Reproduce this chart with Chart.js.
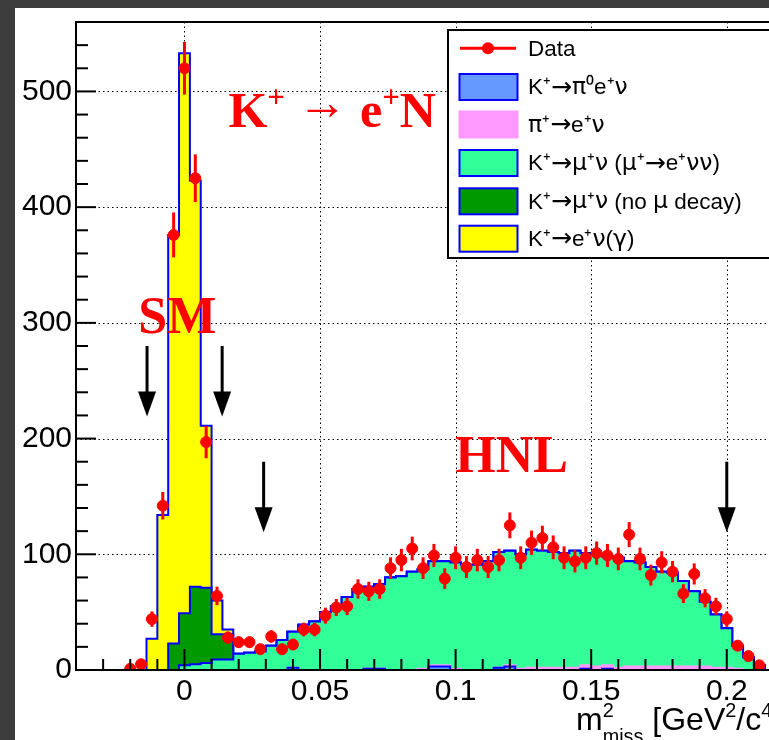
<!DOCTYPE html>
<html>
<head>
<meta charset="utf-8">
<script src="https://cdn.jsdelivr.net/npm/chart.js@4.4.1/dist/chart.umd.min.js"></script>
<style>
  html, body { margin: 0; padding: 0; width: 769px; height: 740px; overflow: hidden; background: #3c3c3c; }
  #wrap { position: absolute; left: 15px; top: 8px; width: 790px; height: 732px; background: #ffffff; }
</style>
</head>
<body>
<div id="wrap"><canvas id="mmissChart" width="790" height="732"></canvas></div>
<script>
// bin centres of the m2miss histogram (GeV^2/c^4), bin width 0.004
const binWidth = 0.004;
const binCenters = [
  -0.02, -0.016, -0.012, -0.008, -0.004, 0, 0.004, 0.008, 0.012, 0.016,
  0.02, 0.024, 0.028, 0.032, 0.036, 0.04, 0.044, 0.048, 0.052, 0.056,
  0.06, 0.064, 0.068, 0.072, 0.076, 0.08, 0.084, 0.088, 0.092, 0.096,
  0.1, 0.104, 0.108, 0.112, 0.116, 0.12, 0.124, 0.128, 0.132, 0.136,
  0.14, 0.144, 0.148, 0.152, 0.156, 0.16, 0.164, 0.168, 0.172, 0.176,
  0.18, 0.184, 0.188, 0.192, 0.196, 0.2, 0.204, 0.208, 0.212
];

// observed events
const dataCounts = [
  1, 5, 44, 142, 376, 520, 425, 197, 64, 28,
  24, 24, 18, 29, 18, 22, 35, 35, 47, 54,
  55, 70, 68, 70, 88, 95, 105, 88, 99, 79,
  97, 89, 95, 89, 95, 125, 97, 110, 114, 106,
  97, 94, 97, 101, 99, 96, 117, 96, 82, 93,
  85, 66, 83, 62, 55, 44, 21, 12, 4
];

// MC components (own contribution per bin, stacked bottom -> top)
const piZeroENu = [
  0, 0, 0, 0, 0, 0, 0, 0, 0, 0,
  0, 0, 0, 0, 0, 2, 0, 0, 0, 0,
  0, 0, 1, 1, 0, 0, 0, 0, 3, 3,
  0, 0, 0, 0, 2, 3, 0, 0, 0, 0,
  0, 0, 1, 0, 1, 0, 0, 0, 0, 0,
  0, 0, 0, 0, 0, 0, 0, 0, 0
];
const piENu = [
  0, 0, 0, 0, 0, 0, 0, 0, 0, 0,
  0, 0, 0, 0, 0, 0, 0, 0, 0, 0,
  0, 0, 0, 0, 0, 0, 0, 1, 1, 1,
  1, 0, 0, 0, 0, 1, 1, 2, 2, 2,
  2, 2, 3, 3, 3, 2, 3, 3, 3, 3,
  3, 3, 3, 3, 2, 2, 1, 0, 0
];
const muDecay = [
  0, 0, 0, 0, 0, 4, 5, 6, 9, 9,
  14, 15, 16, 21, 26, 31, 39, 42, 50, 55,
  63, 70, 71, 73, 80, 81, 85, 86, 90, 90,
  92, 91, 91, 94, 100, 99, 99, 102, 101, 100,
  99, 101, 97, 97, 94, 95, 91, 90, 86, 82,
  81, 74, 65, 56, 46, 34, 20, 11, 4
];
const noMuDecay = [
  0, 0, 0, 0, 23, 45, 67, 65, 22, 22,
  0, 0, 0, 0, 0, 0, 0, 0, 0, 0,
  0, 0, 0, 0, 0, 0, 0, 0, 0, 0,
  0, 0, 0, 0, 0, 0, 0, 0, 0, 0,
  0, 0, 0, 0, 0, 0, 0, 0, 0, 0,
  0, 0, 0, 0, 0, 0, 0, 0, 0
];
const eNuGamma = [
  0, 0, 27, 134, 353, 484, 351, 140, 29, 4,
  0, 0, 0, 0, 0, 0, 0, 0, 0, 0,
  0, 0, 0, 0, 0, 0, 0, 0, 0, 0,
  0, 0, 0, 0, 0, 0, 0, 0, 0, 0,
  0, 0, 0, 0, 0, 0, 0, 0, 0, 0,
  0, 0, 0, 0, 0, 0, 0, 0, 0
];

const xTickValues = [0, 0.05, 0.1, 0.15, 0.2];
const yTickValues = [0, 100, 200, 300, 400, 500];

// selection cut arrows: x position, top and tip (in events)
const cutArrows = [
  { x: -0.0138, top: 280, tip: 219 },
  { x: 0.0139, top: 280, tip: 219 },
  { x: 0.0292, top: 180, tip: 119 },
  { x: 0.2, top: 180, tip: 119 }
];

// cumulative stack
let running = binCenters.map(() => 0);
const stacked = [piZeroENu, piENu, muDecay, noMuDecay, eNuGamma].map(vals => {
  running = running.map((r, i) => r + vals[i]);
  return running;
});

// histogram outline points at bin low edges (held until next edge)
function stepPoints(values) {
  const pts = [{ x: binCenters[0] - binWidth / 2, y: 0 }];
  values.forEach((v, i) => pts.push({ x: binCenters[i] - binWidth / 2, y: v }));
  pts.push({ x: binCenters[binCenters.length - 1] + binWidth / 2, y: 0 });
  return pts;
}

function histDataset(label, values, fillColor, lineColor) {
  return {
    label: label,
    data: stepPoints(values),
    stepped: 'before',
    fill: 'origin',
    backgroundColor: fillColor,
    borderColor: lineColor,
    borderWidth: 2,
    pointRadius: 0
  };
}

const sansFont = '"Liberation Sans", Arial, sans-serif';
const serifFont = '"Liberation Serif", "Times New Roman", serif';

function drawRich(ctx, parts, px, py, size, weight, family) {
  let cx = px;
  parts.forEach(p => {
    const s = p.mode ? size * 0.62 : size;
    ctx.font = `${weight} ${s}px ${family}`;
    let dy = p.mode === 1 ? -size * 0.4 : (p.mode === -1 ? size * 0.4 : 0);
    if (p.dy) dy += p.dy;
    ctx.fillText(p.t, cx, py + dy);
    if (!p.keep) cx += ctx.measureText(p.t).width;
  });
}

// legend text: arrows and greek letters a bit wider, like the ROOT symbol font
function drawLegendLabel(ctx, label, px, py) {
  let cx = px;
  for (const ch of label) {
    if (ch === '\u2192') ctx.font = '25px "DejaVu Sans"';
    else if (/[\u0370-\u03FF]/.test(ch)) ctx.font = '23.5px "DejaVu Sans"';
    else ctx.font = `22.5px ${sansFont}`;
    ctx.fillText(ch, cx, py);
    cx += ctx.measureText(ch).width;
  }
}

const rootStyle = {
  id: 'rootStyle',
  beforeDatasetsDraw(chart) {
    const { ctx, chartArea: a, scales: { x, y } } = chart;
    ctx.save();
    ctx.strokeStyle = '#000000';
    ctx.lineWidth = 1;
    ctx.setLineDash([1.5, 3]);
    xTickValues.forEach(v => {
      const px = Math.round(x.getPixelForValue(v)) + 0.5;
      ctx.beginPath(); ctx.moveTo(px, a.top); ctx.lineTo(px, a.bottom); ctx.stroke();
    });
    yTickValues.forEach(v => {
      if (v === 0) return;
      const py = Math.round(y.getPixelForValue(v)) + 0.5;
      ctx.beginPath(); ctx.moveTo(a.left, py); ctx.lineTo(a.right, py); ctx.stroke();
    });
    ctx.restore();
  },
  beforeDatasetDraw(chart, args) {
    if (args.index !== 0) return;
    // sqrt(N) error bars under the data markers
    const { ctx, scales: { x, y } } = chart;
    ctx.save();
    ctx.strokeStyle = '#ff0000';
    ctx.lineWidth = 3;
    dataCounts.forEach((n, i) => {
      if (n <= 0) return;
      const px = x.getPixelForValue(binCenters[i]);
      const err = Math.sqrt(n);
      ctx.beginPath();
      ctx.moveTo(px, y.getPixelForValue(Math.max(0, n - err)));
      ctx.lineTo(px, y.getPixelForValue(n + err));
      ctx.stroke();
    });
    ctx.restore();
  },
  afterDraw(chart) {
    const { ctx, chartArea: a, scales: { x, y } } = chart;
    ctx.save();

    // frame
    ctx.strokeStyle = '#000000';
    ctx.lineWidth = 2;
    ctx.strokeRect(a.left, a.top, a.right - a.left, a.bottom - a.top);

    // ticks (inside the frame)
    for (let v = 0; v <= y.max; v += 20) {
      const len = v % 100 === 0 ? 20 : 12;
      const py = y.getPixelForValue(v);
      ctx.beginPath(); ctx.moveTo(a.left, py); ctx.lineTo(a.left + len, py); ctx.stroke();
    }
    for (let i = -4; i <= 22; i++) {
      const len = i % 5 === 0 ? 21 : 11;
      const px = x.getPixelForValue(i * 0.01);
      ctx.beginPath(); ctx.moveTo(px, a.bottom); ctx.lineTo(px, a.bottom - len); ctx.stroke();
    }

    // cut arrows
    ctx.fillStyle = '#000000';
    ctx.lineWidth = 3;
    cutArrows.forEach(c => {
      const px = x.getPixelForValue(c.x);
      const top = y.getPixelForValue(c.top);
      const tip = y.getPixelForValue(c.tip);
      ctx.beginPath(); ctx.moveTo(px, top); ctx.lineTo(px, tip - 20); ctx.stroke();
      ctx.beginPath();
      ctx.moveTo(px - 9, tip - 25); ctx.lineTo(px + 9, tip - 25); ctx.lineTo(px, tip);
      ctx.closePath(); ctx.fill();
    });

    // red labels
    ctx.fillStyle = '#ff0000';
    ctx.textBaseline = 'alphabetic';
    ctx.textAlign = 'left';
    drawRich(ctx, [{ t: 'K' }, { t: '+', mode: 1 }, { t: ' \u2192 ', dy: -8 }, { t: 'e' }, { t: '+', mode: 1 }, { t: 'N' }],
      x.getPixelForValue(0.0162), y.getPixelForValue(469), 50, 'bold', serifFont);
    drawRich(ctx, [{ t: 'SM' }], x.getPixelForValue(-0.0170), y.getPixelForValue(291), 52, 'bold', serifFont);
    drawRich(ctx, [{ t: 'HNL' }], x.getPixelForValue(0.0999), y.getPixelForValue(171), 52, 'bold', serifFont);

    // axis title
    ctx.fillStyle = '#000000';
    drawRich(ctx, [{ t: 'm' }, { t: '2', mode: 1, keep: true }, { t: 'miss', mode: -1 }, { t: ' [GeV' }, { t: '2', mode: 1 },
      { t: '/c' }, { t: '4', mode: 1 }, { t: ']' }], 561, 722, 32, 'normal', sansFont);

    // legend
    const lx = 433, ly = 22;
    ctx.fillStyle = '#ffffff';
    ctx.fillRect(lx, ly, 400, 228);
    ctx.strokeStyle = '#000000';
    ctx.lineWidth = 2;
    ctx.strokeRect(lx, ly, 400, 228);
    const rowY = [40.3, 79, 116.5, 155, 193.3, 230.7];
    ctx.textBaseline = 'middle';
    chart.data.datasets.forEach((ds, i) => {
      const cy = rowY[i];
      if (i === 0) {
        ctx.strokeStyle = '#ff0000';
        ctx.lineWidth = 3;
        ctx.beginPath(); ctx.moveTo(445, cy); ctx.lineTo(501, cy); ctx.stroke();
        ctx.fillStyle = '#ff0000';
        ctx.beginPath(); ctx.arc(473, cy, 6, 0, Math.PI * 2); ctx.fill();
      } else {
        ctx.fillStyle = ds.backgroundColor;
        ctx.fillRect(444.5, cy - 13, 58, 26);
        ctx.strokeStyle = ds.borderColor;
        ctx.lineWidth = 2;
        ctx.strokeRect(444.5, cy - 13, 58, 26);
      }
      ctx.fillStyle = '#000000';
      drawLegendLabel(ctx, ds.label, 513, cy + 1);
    });
    ctx.restore();
  }
};

const ctx = document.getElementById('mmissChart').getContext('2d');
const mmissChart = new Chart(ctx, {
  type: 'line',
  data: {
    datasets: [
      {
        label: 'Data',
        data: binCenters.map((c, i) => ({ x: c, y: dataCounts[i] })),
        showLine: false,
        pointRadius: 5.5,
        pointBorderWidth: 1,
        pointBackgroundColor: '#ff0000',
        pointBorderColor: '#ff0000',
        borderColor: '#ff0000',
        backgroundColor: '#ff0000'
      },
      histDataset('K\u207A\u2192\u03C0\u2070e\u207A\u03BD', stacked[0], '#6699ff', '#0000ff'),
      histDataset('\u03C0\u207A\u2192e\u207A\u03BD', stacked[1], '#ff99ff', '#ff99ff'),
      histDataset('K\u207A\u2192\u03BC\u207A\u03BD (\u03BC\u207A\u2192e\u207A\u03BD\u03BD)', stacked[2], '#33ff99', '#0000ff'),
      histDataset('K\u207A\u2192\u03BC\u207A\u03BD (no \u03BC decay)', stacked[3], '#009900', '#0000ff'),
      histDataset('K\u207A\u2192e\u207A\u03BD(\u03B3)', stacked[4], '#ffff00', '#0000ff')
    ]
  },
  options: {
    responsive: false,
    animation: false,
    devicePixelRatio: 1,
    events: [],
    layout: { padding: { top: 14, right: 24, left: 0, bottom: 0 } },
    plugins: {
      legend: { display: false },
      tooltip: { enabled: false }
    },
    scales: {
      x: {
        type: 'linear',
        min: -0.04,
        max: 0.22,
        afterBuildTicks: s => { s.ticks = xTickValues.map(v => ({ value: v })); },
        afterFit: s => { s.height = 70; s.paddingLeft = 0; s.paddingRight = 0; },
        grid: { display: false, drawTicks: false },
        border: { display: false },
        ticks: {
          padding: 4,
          maxRotation: 0,
          autoSkip: false,
          color: '#000000',
          font: { family: sansFont, size: 30 },
          callback: v => String(v)
        }
      },
      y: {
        min: 0,
        max: 560,
        afterBuildTicks: s => { s.ticks = yTickValues.map(v => ({ value: v })); },
        afterFit: s => { s.width = 61; s.paddingTop = 0; s.paddingBottom = 0; },
        grid: { display: false, drawTicks: false },
        border: { display: false },
        ticks: {
          padding: 4,
          color: '#000000',
          font: { family: sansFont, size: 30 },
          callback: v => String(v)
        }
      }
    }
  },
  plugins: [rootStyle]
});
</script>
</body>
</html>
